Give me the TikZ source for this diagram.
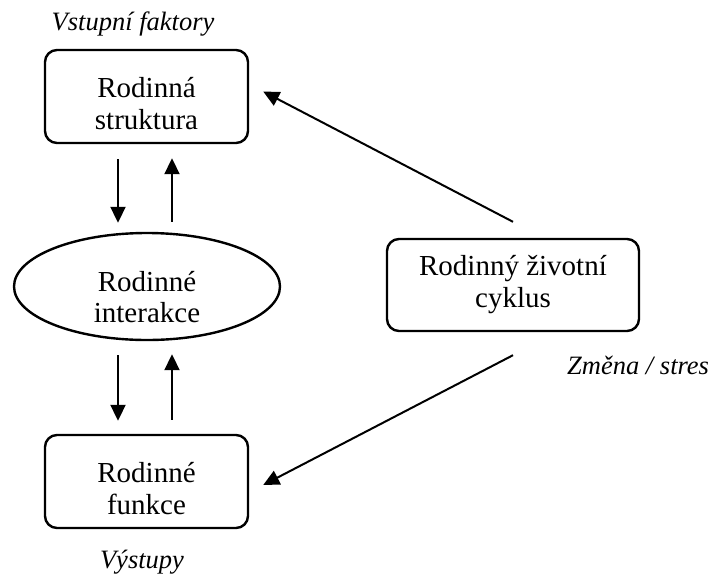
\documentclass[tikz,border=0pt]{standalone}
\usepackage{fontspec}
\setmainfont{Liberation Serif}
\usetikzlibrary{shapes.geometric, arrows.meta, calc}
\newcommand{\zvedni}[1]{\rule{0pt}{#1}}
\tikzset{
  box/.style={
    rectangle, rounded corners=12pt, minimum width=203pt, minimum height=93pt,
    text centered, align=center, draw=black, line width=2.4pt, inner sep=0pt,
    font=\fontsize{29}{32}\selectfont
  },
  oval/.style={
    ellipse, minimum width=266pt, minimum height=107pt,
    align=center, draw=black, line width=2.4pt, inner sep=0pt,
    font=\fontsize{29}{31}\selectfont
  },
  label/.style={
    font=\fontsize{26.5}{28}\selectfont\itshape, inner sep=0pt
  },
  flow/.style={
    -{Triangle[length=16pt,width=15pt]}, line width=2pt, color=black
  }
}

\begin{document}
\begin{tikzpicture}[x=1pt, y=-1pt]
      \useasboundingbox (0,0) rectangle (713,579);

      % Boxes on the left
      \node[box] (struktura) at (146.5,96.5) {\zvedni{35pt}Rodinná\\struktura};
      \node[oval] (interakce) at (147,286.5) {\zvedni{41pt}Rodinné\\interakce};
      \node[box] (funkce) at (146.5,481.5) {\zvedni{35pt}Rodinné\\funkce};

      % Life cycle box on the right
      \node[box, minimum width=252pt, minimum height=92pt] (cyklus) at (513,285)
        {Rodinný životní\\cyklus};

      % Italic captions
      \node[label] (vstup) at (133,24) {Vstupní faktory};
      \node[label] (vystup) at (142,562) {Výstupy};
      \node[label, anchor=west] (zmena) at (567,365) {Změna / stres};

      % Arrows between structure and interactions
      \draw[flow, shorten <=15pt, shorten >=9pt]
        ([xshift=-28.5pt]struktura.south) -- ([xshift=-28.5pt]struktura.south |- interakce.north);
      \draw[flow, shorten <=10pt, shorten >=14pt]
        ([xshift=25.5pt]struktura.south |- interakce.north) -- ([xshift=25.5pt]struktura.south);

      % Arrows between interactions and functions
      \draw[flow, shorten <=14pt, shorten >=13pt]
        ([xshift=-28.5pt]funkce.north |- interakce.south) -- ([xshift=-28.5pt]funkce.north);
      \draw[flow, shorten <=14pt, shorten >=13pt]
        ([xshift=25.5pt]funkce.north) -- ([xshift=25.5pt]funkce.north |- interakce.south);

      % Life cycle acting on input and output
      \draw[flow] ([yshift=16pt]cyklus.north) -- ([xshift=14pt,yshift=5pt]struktura.east);
      \draw[flow] ([yshift=-23pt]cyklus.south) -- ([xshift=14pt,yshift=-3.5pt]funkce.east);
\end{tikzpicture}
\end{document}
